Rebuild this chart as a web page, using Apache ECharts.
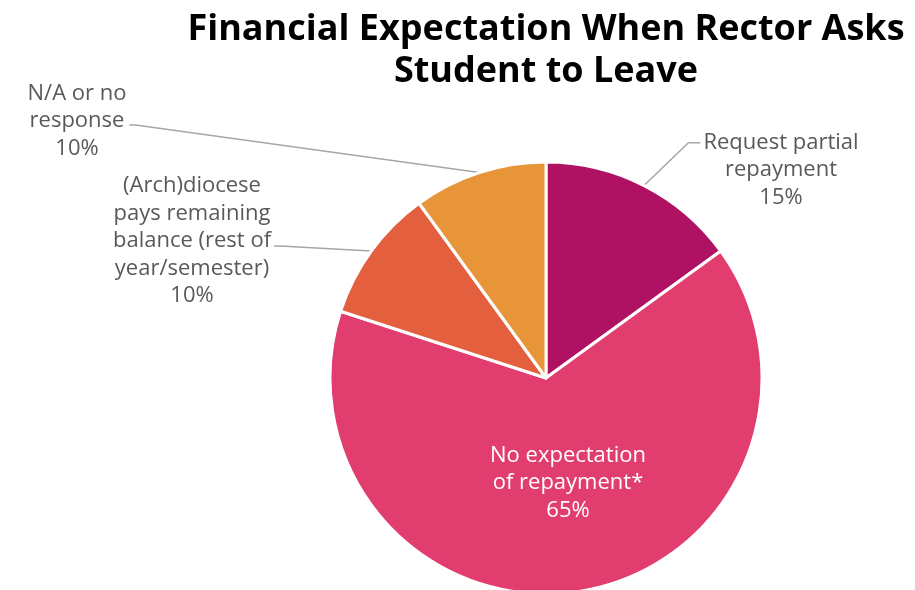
<!DOCTYPE html>
<html>
<head>
<meta charset="utf-8">
<script src="https://cdn.jsdelivr.net/npm/echarts@6/dist/echarts.min.js"></script>
<style>
  html, body { margin: 0; padding: 0; background: #fff; }
  #chart { width: 915px; height: 590px; }
</style>
</head>
<body>
<div id="chart"></div>
<script>
// Survey responses: financial expectation when a student is asked to leave
const categories = [
  'Request partial\nrepayment',
  'No expectation\nof repayment*',
  '(Arch)diocese\npays remaining\nbalance (rest of\nyear/semester)',
  'N/A or no\nresponse'
];
const shares = [15, 65, 10, 10];
const sliceColors = ['#B01263', '#E13D6E', '#E35F3D', '#E8953A'];

// Where each label block sits (center of the text block)
const labelSpots = [
  { x: 781, y: 170, side: 'left' },
  { x: 568, y: 483, side: null },
  { x: 192, y: 241, side: 'right' },
  { x: 77, y: 121, side: 'right' }
];

const chart = echarts.init(document.getElementById('chart'), null, { renderer: 'canvas' });

const labelFont = '"Open Sans", "Lato", sans-serif';

chart.setOption({
  animation: false,
  title: {
    text: 'Financial Expectation When Rector Asks\nStudent to Leave',
    left: 541,
    top: 4,
    textAlign: 'center',
    textStyle: {
      fontFamily: labelFont,
      fontWeight: 'bold',
      fontSize: 36,
      lineHeight: 42,
      color: '#000'
    }
  },
  series: [{
    type: 'pie',
    center: [546, 378],
    radius: 216,
    startAngle: 90,
    clockwise: true,
    avoidLabelOverlap: false,
    itemStyle: { borderColor: '#fff', borderWidth: 3 },
    label: {
      show: true,
      position: 'outside',
      formatter: p => p.name + '\n' + p.value + '%',
      fontFamily: labelFont,
      fontSize: 22,
      lineHeight: 27.5,
      color: '#595959',
      align: 'center'
    },
    labelLine: {
      show: true,
      lineStyle: { color: '#A6A6A6', width: 1.5 }
    },
    labelLayout: function (params) {
      const spot = labelSpots[params.dataIndex];
      if (!spot) return {};
      const r = params.labelRect;
      const anchor = params.labelLinePoints ? params.labelLinePoints[0] : null;
      const out = { x: spot.x, y: spot.y, align: 'center', verticalAlign: 'middle' };
      if (anchor && spot.side) {
        if (spot.side === 'left') {
          const ex = spot.x - r.width / 2 - 3;
          const ey = spot.y - r.height / 2 + 14;
          out.labelLinePoints = [anchor, [ex - 12, ey], [ex, ey]];
        } else {
          const ex = spot.x + r.width / 2 + 3;
          const ey = params.dataIndex === 3 ? spot.y + 4 : spot.y + 5;
          out.labelLinePoints = [anchor, [ex + 6, ey], [ex, ey]];
        }
      }
      return out;
    },
    data: categories.map((name, i) => {
      const item = { name: name, value: shares[i], itemStyle: { color: sliceColors[i] } };
      if (i === 1) {
        item.label = { position: 'inside', color: '#fff' };
        item.labelLine = { show: false };
      }
      return item;
    })
  }]
});
</script>
</body>
</html>
